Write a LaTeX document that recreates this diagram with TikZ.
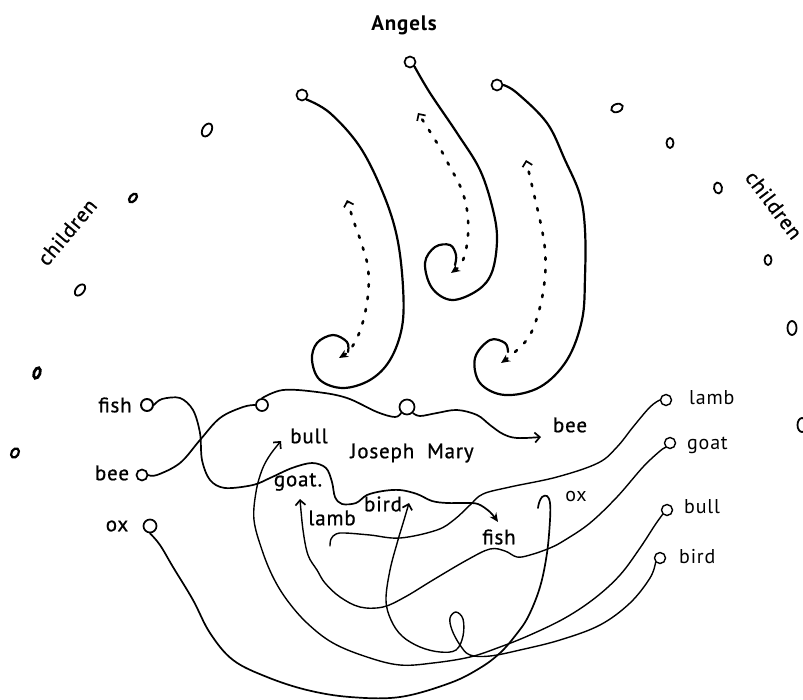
\documentclass[tikz,border=0pt]{standalone}
\usepackage{fontspec}
\setmainfont{PT Sans}[LetterSpace=4]
\newfontfamily\heavyfont{PT Sans}[LetterSpace=4, FakeBold=0.8]
\usetikzlibrary{arrows.meta,shapes.geometric}
\begin{document}
\begin{tikzpicture}[x=1pt,y=-1pt,
  lbl/.style={inner sep=0pt, font=\heavyfont\fontsize{21}{24}\selectfont},
  lblthin/.style={inner sep=0pt, font=\fontsize{20}{24}\selectfont},
  dot/.style={circle, draw, line width=1.7pt, inner sep=0pt, minimum size=11pt},
  kid/.style={ellipse, draw, line width=1.8pt, inner sep=0pt},
  wire/.style={draw, line width=1.7pt, line cap=round, line join=round},
  thinwire/.style={draw, line width=1.4pt, line cap=round, line join=round},
  angel/.style={draw, line width=2.2pt, line cap=round, line join=round},
  dotline/.style={draw, line width=2.6pt, line cap=round, dash pattern=on 2.5pt off 10pt},
  barb/.tip={Straight Barb[length=5pt,width=10pt,line width=1.7pt]},
  head/.tip={Stealth[length=9pt,width=8pt]}
]
\useasboundingbox (0,0) rectangle (803,699);

% ---- title
\node[inner sep=0pt, font=\fontsize{21}{24}\selectfont\bfseries] (angels) at (404,25) {Angels};

% ---- children
\node[lbl, rotate=50] (chL) at (67,232) {children};
\node[lbl, rotate=-53] (chR) at (774,205) {children};
\node[kid, minimum width=9pt, minimum height=14pt, rotate=-30] (k1) at (207,130) {};
\node[kid, minimum width=6pt, minimum height=10pt, rotate=-40, line width=2.3pt] (k2) at (133,198) {};
\node[kid, minimum width=8pt, minimum height=13pt, rotate=-40] (k3) at (80,290) {};
\node[kid, minimum width=6pt, minimum height=11pt, rotate=-20, line width=2.8pt] (k4) at (37,373) {};
\node[kid, minimum width=7pt, minimum height=10pt, rotate=-30, line width=2.2pt] (k5) at (15,453) {};
\node[kid, minimum width=12pt, minimum height=8pt, rotate=20] (k6) at (617,108) {};
\node[kid, minimum width=7pt, minimum height=10pt] (k7) at (670,143) {};
\node[kid, minimum width=8pt, minimum height=11pt, rotate=10] (k8) at (718,188) {};
\node[kid, minimum width=7pt, minimum height=10pt] (k9) at (768,260) {};
\node[kid, minimum width=9pt, minimum height=14pt] (k10) at (792,328) {};
\node[kid, minimum width=9pt, minimum height=14pt] (k11) at (802,425) {};

% ---- angels
\node[dot] (an1) at (302,95) {};
\node[dot] (an2) at (410,62) {};
\node[dot] (an3) at (497,85) {};
\coordinate (s1) at (339,358); \coordinate (t1) at (347,200);
\coordinate (s2) at (451,273); \coordinate (t2) at (418,113);
\coordinate (s3) at (501,363); \coordinate (t3) at (526,160);

\draw[angel] plot[smooth, tension=0.6] coordinates {(an1.south east) (330,113) (360,147) (383,193) (397,237) (403,287) (402,327) (390,360) (370,380) (343,388) (320,380) (312,360) (317,343) (333,335) (347,342) (348,352)};
\draw[angel] plot[smooth, tension=0.6] coordinates {(an2.south east) (430,93) (457,133) (480,170) (493,210) (497,240) (492,272) (478,290) (452,300) (432,288) (425,263) (435,247) (450,245) (456,255) (455,265)};
\draw[angel] plot[smooth, tension=0.6] coordinates {(an3.east) (517,93) (547,123) (565,160) (580,195) (585,230) (585,277) (582,320) (567,360) (540,387) (505,395) (480,383) (475,358) (490,340) (505,343) (508,352)};

\draw[dotline, {head}-{barb}] plot[smooth, tension=0.6] coordinates {(s1) (352,347) (362,325) (368,295) (368,268) (362,245) (354,222) (t1)};
\draw[dotline, {head}-{barb}] plot[smooth, tension=0.6] coordinates {(s2) (463,260) (468,235) (467,210) (461,188) (450,167) (437,143) (t2)};
\draw[dotline, {head}-{barb}] plot[smooth, tension=0.6] coordinates {(s3) (515,352) (530,335) (540,307) (545,277) (545,250) (541,225) (533,190) (t3)};

% ---- left animals
\node[lbl] (fishLt) at (115,405) {fish};
\node[circle, draw, line width=1.9pt, inner sep=0pt, minimum size=12pt] (fishL) at (147,405) {};
\node[lbl] (beeLt) at (112,473) {bee};
\node[dot] (beeL) at (142,475) {};
\node[lbl] (oxLt) at (117,526) {ox};
\node[dot, minimum size=13pt] (oxL) at (150,526) {};

% ---- middle labels
\node[lbl] (bullM) at (309,436) {bull};
\node[lbl] (jm) at (412,453) {Joseph\ \ Mary};
\node[lbl] (goatM) at (298,482) {goat.};
\node[lbl] (lambM) at (332,518) {lamb};
\node[lbl] (birdM) at (383,504) {bird};
\node[lbl] (fishM) at (499,537) {fish};
\node[lblthin] (oxM) at (576,496) {ox};
\node[lbl] (beeM) at (570,425) {bee};
\node[dot, minimum size=12pt] (beeC) at (262,405) {};
\node[dot, minimum size=15pt] (maryC) at (407,407) {};

% ---- right animals
\node[dot, line width=1.4pt, minimum size=11pt] (lambR) at (666,400) {};
\node[lblthin, anchor=west] (lambRt) at (689,398) {lamb};
\node[dot, line width=1.4pt, minimum size=11pt] (goatR) at (670,443) {};
\node[lblthin, anchor=west] (goatRt) at (687,445) {goat};
\node[dot, line width=1.4pt, minimum size=11pt] (bullR) at (667,510) {};
\node[lblthin, anchor=west] (bullRt) at (684,507) {bull};
\node[dot, line width=1.4pt, minimum size=11pt] (birdR) at (660,558) {};
\node[lblthin, anchor=west] (birdRt) at (679,557) {bird};

% ---- tip coordinates
\coordinate (tipFish) at (498,522);
\coordinate (tipBee) at (541,437);
\coordinate (tipBull) at (281,441);
\coordinate (tipGoat) at (300,499);
\coordinate (tipBird) at (409,503);

% fish -> fish
\draw[wire, -{head}] plot[smooth, tension=0.55] coordinates {(fishL.east) (162,399) (180,398) (193,410) (200,433) (202,460) (210,480) (225,488) (253,485) (270,478) (292,468) (312,463) (326,468) (332,482) (335,497) (342,504) (356,503) (367,495) (383,491) (400,490) (417,494) (432,501) (447,503) (465,503) (478,504) (490,512) (tipFish)};
% bee -> bee
\draw[wire] plot[smooth, tension=0.6] coordinates {(beeL.east) (157,475) (180,463) (200,440) (220,418) (243,407) (beeC.west)};
\draw[wire] plot[smooth, tension=0.6] coordinates {(beeC.north) (283,390) (317,392) (347,398) (377,412) (395,417) (maryC.south west)};
\draw[wire, -{barb}] plot[smooth, tension=0.6] coordinates {(maryC.south east) (420,416) (437,413) (457,410) (477,415) (490,425) (503,434) (517,438) (tipBee)};
% ox -> ox
\draw[wire] plot[smooth, tension=0.6] coordinates {(oxL.south) (160,545) (173,567) (193,600) (210,633) (233,660) (267,677) (307,690) (350,697) (400,697) (450,683) (480,668) (500,653) (515,636) (528,617) (540,587) (547,553) (550,520) (550,503) (547,496) (542,497) (539,503) (538,508)};
% lamb -> lamb
\draw[thinwire] plot[smooth, tension=0.6] coordinates {(lambR.west) (650,407) (633,427) (617,447) (598,463) (557,477) (510,487) (483,494) (470,505) (455,519) (437,530) (400,538) (370,535) (345,533) (336,534) (331,539) (330,546)};
% goat -> goat
\draw[thinwire, -{barb}] plot[smooth, tension=0.6] coordinates {(goatR.south west) (660,451) (643,467) (617,497) (590,523) (565,540) (550,548) (530,555) (517,557) (505,551) (490,549) (467,560) (433,580) (405,597) (383,607) (360,607) (340,597) (325,583) (317,570) (308,555) (303,530) (tipGoat)};
% bull -> bull
\draw[thinwire, -{barb}] plot[smooth, tension=0.6] coordinates {(bullR.south west) (655,525) (640,548) (620,575) (595,598) (565,618) (530,635) (500,647) (470,657) (433,663) (400,665) (367,657) (333,643) (307,623) (287,600) (273,577) (262,550) (254,520) (256,492) (262,470) (270,455) (tipBull)};
% bird -> bird
\draw[thinwire, -{barb}] plot[smooth, tension=0.6] coordinates {(birdR.south west) (650,578) (630,603) (600,625) (560,640) (520,650) (490,656) (470,655) (460,645) (452,630) (450,618) (456,612) (463,619) (463,636) (456,650) (440,652) (420,647) (402,636) (391,620) (386,600) (390,570) (398,540) (404,520) (tipBird)};
\end{tikzpicture}
\end{document}
